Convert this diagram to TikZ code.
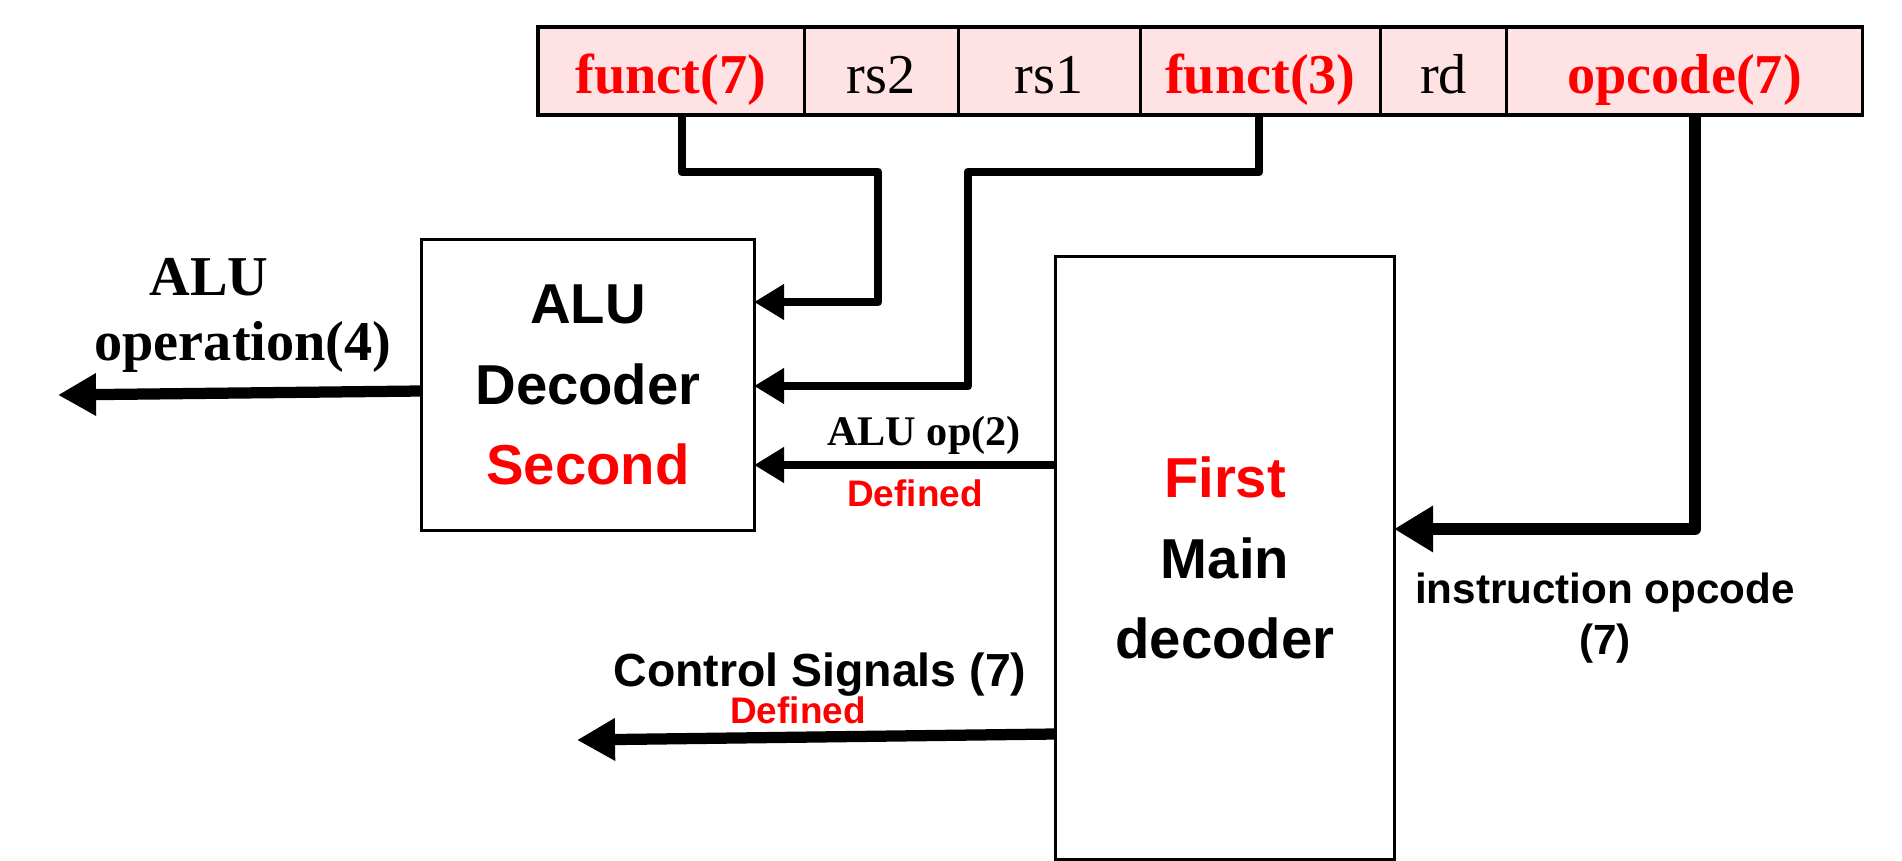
\documentclass[tikz,border=0pt]{standalone}
\usepackage{fontspec}
\setmainfont{Liberation Serif}
\setsansfont{Liberation Sans}
\usepackage{xcolor}
\usetikzlibrary{arrows.meta,positioning,calc}
\definecolor{fieldpink}{RGB}{255,226,228}

\begin{document}
\begin{tikzpicture}[x=0.01cm,y=-0.01cm,
  field/.style={draw,line width=0.9pt,fill=fieldpink,outer sep=0pt,inner sep=0pt,minimum height=0.88cm,text height=0.44cm,text depth=0pt,font=\fontsize{16}{19}\selectfont},
  redfield/.style={field,text=red,font=\fontsize{16}{19}\selectfont\bfseries},
  decbox/.style={draw,line width=0.9pt,outer sep=0pt,align=center,font=\fontsize{16}{22.8}\selectfont\sffamily\bfseries},
  wire/.style={line width=2.5pt,line join=round,-{Triangle[length=0.3cm,width=0.34cm]}},
  opwire/.style={line width=3.5pt,line join=round,-{Triangle[length=0.39cm,width=0.44cm]}},
  outwire/.style={line width=3.2pt,-{Triangle[length=0.38cm,width=0.4cm]}},
  oplabel/.style={font=\fontsize{16}{19}\selectfont\bfseries},
  buslabel/.style={font=\fontsize{12}{14}\selectfont\bfseries},
  siglabel/.style={font=\fontsize{12}{14.5}\selectfont\sffamily\bfseries,align=center},
  deflabel/.style={text=red,font=\fontsize{10.5}{12}\selectfont\sffamily\bfseries}]
\useasboundingbox (0,0) rectangle (1902,861);

% instruction fields
\node[redfield,minimum width=2.66cm] (f7) at (671,71) {funct(7)};
\node[field,minimum width=1.54cm,right=0pt of f7] (rs2) {rs2};
\node[field,minimum width=1.82cm,right=0pt of rs2] (rs1) {rs1};
\node[redfield,minimum width=2.40cm,right=0pt of rs1] (f3) {funct(3)};
\node[field,minimum width=1.26cm,right=0pt of f3] (rd) {rd};
\node[redfield,minimum width=3.56cm,right=0pt of rd] (op) {opcode(7)};

% decoders
\node[decbox,minimum width=3.32cm,minimum height=2.91cm] (aludec) at (588,385) {ALU\\Decoder\\\textcolor{red}{Second}};
\node[decbox,minimum width=3.38cm,minimum height=6.02cm] (maindec) at (1225,558) {\textcolor{red}{First}\\Main\\decoder};

\coordinate (aluout) at (58,395);
\coordinate (ctrlout) at (577,740);

\draw[wire] (682,0 |- f7.south) |- (878,172) |- (aludec.east |- 0,302);
\draw[wire] (1259,0 |- f3.south) |- (968,172) |- (aludec.east |- 0,386);
\draw[wire] (maindec.west |- 0,465) -- (aludec.east |- 0,465);
\draw[opwire] (1695,0 |- op.south) |- (maindec.east |- 0,529);
\draw[outwire] (aludec.west |- 0,391) -- (aluout);
\draw[outwire] (maindec.west |- 0,734) -- (ctrlout);

% labels
\node[oplabel,anchor=base] (aluopa) at (209,296) {ALU};
\node[oplabel,anchor=base] (aluopb) at (243,361) {operation(4)};
\node[buslabel,anchor=base] (aluop) at (924,446) {ALU op(2)};
\node[deflabel,anchor=base] (aludef) at (915,507) {Defined};
\node[siglabel] (opcodein) at (1605,618) {instruction opcode\\(7)};
\node[siglabel,font=\fontsize{13.2}{15}\selectfont\sffamily\bfseries,anchor=base] (ctrl) at (820,687) {Control Signals (7)};
\node[deflabel,anchor=base] (ctrldef) at (798,724) {Defined};
\end{tikzpicture}
\end{document}
